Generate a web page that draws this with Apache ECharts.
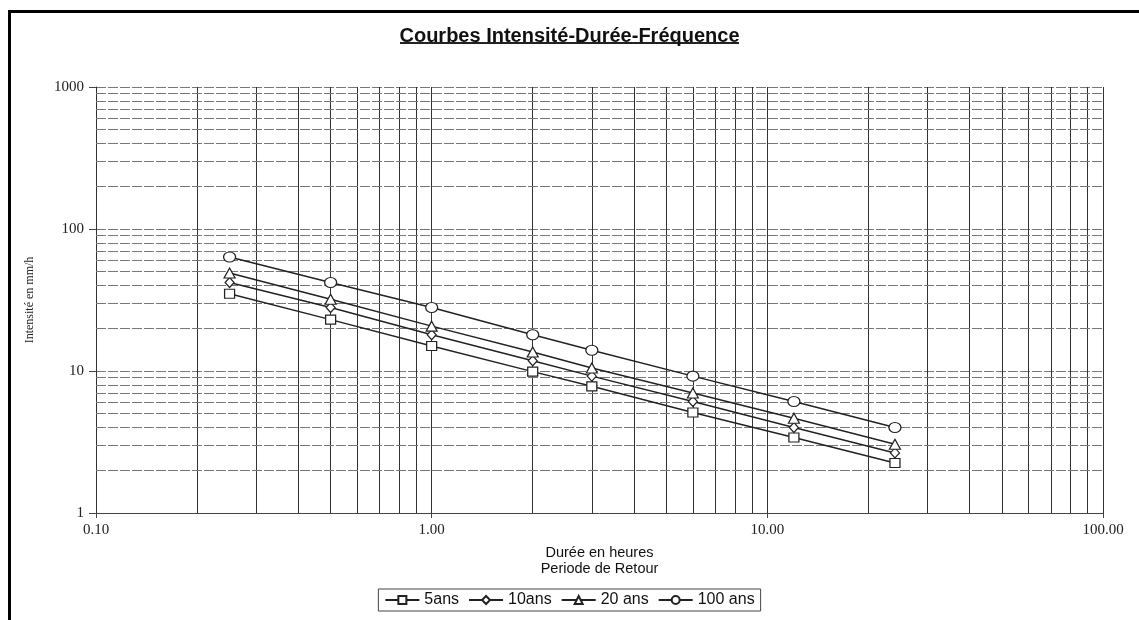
<!DOCTYPE html>
<html>
<head>
<meta charset="utf-8">
<script src="https://cdn.jsdelivr.net/npm/echarts@6/dist/echarts.min.js"></script>
<style>
  html, body { margin: 0; padding: 0; background: #fff; }
  #chart { width: 1139px; height: 620px; }
</style>
</head>
<body>
<div id="chart"></div>
<script>
// durations (hours) and intensities (mm/h)
const durations = [0.25, 0.5, 1, 2, 3, 6, 12, 24];
const ans5 = [35, 23, 15, 9.9, 7.8, 5.1, 3.4, 2.25];
const ans10 = [42, 28, 18, 11.8, 9.2, 6.1, 4.0, 2.65];
const ans20 = [49, 32, 20.7, 13.6, 10.5, 7.0, 4.65, 3.05];
const ans100 = [63.5, 42, 28, 18, 14, 9.2, 6.1, 4.0];

const seriesNames = ['5ans', '10ans', '20 ans', '100 ans'];
const xMinorLines = [0.2, 0.3, 0.4, 0.5, 0.6, 0.7, 0.8, 0.9, 2, 3, 4, 5, 6, 7, 8, 9, 20, 30, 40, 50, 60, 70, 80, 90];
const yMinorLines = [2, 3, 4, 5, 6, 7, 8, 9, 20, 30, 40, 50, 60, 70, 80, 90, 200, 300, 400, 500, 600, 700, 800, 900];

const chart = echarts.init(document.getElementById('chart'), null, { renderer: 'canvas' });

const pair = vals => durations.map((d, i) => [d, vals[i]]);

function dataSeries(name, vals, symbol, size) {
    return {
        name: name,
        type: 'line',
        z: 5,
        data: pair(vals),
        symbol: symbol,
        symbolSize: size,
        showAllSymbol: true,
        lineStyle: { color: '#222', width: 1.5 },
        itemStyle: { color: '#fff', borderColor: '#222', borderWidth: 1.2 }
    };
}

const option = {
    backgroundColor: '#fff',
    animation: false,
    title: {
        text: 'Courbes Intensité-Durée-Fréquence',
        left: 'center',
        top: 21,
        textStyle: { fontFamily: 'Liberation Sans', fontWeight: 'bold', fontSize: 20, color: '#111' }
    },
    graphic: [
        // underline of the title
        { type: 'line', shape: { x1: 400, y1: 43, x2: 739, y2: 43 }, style: { stroke: '#222', lineWidth: 2 } },
        // page frame (left + top)
        { type: 'line', shape: { x1: 9.5, y1: 10, x2: 9.5, y2: 620 }, style: { stroke: '#000', lineWidth: 3 } },
        { type: 'line', shape: { x1: 8, y1: 11.5, x2: 1139, y2: 11.5 }, style: { stroke: '#000', lineWidth: 3 } }
    ],
    legend: {
        data: seriesNames,
        left: 'center',
        top: 589,
        orient: 'horizontal',
        itemWidth: 34,
        itemHeight: 10,
        itemGap: 9,
        padding: [3, 6],
        borderColor: '#444',
        borderWidth: 1,
        textStyle: { fontFamily: 'Liberation Sans', fontSize: 16, color: '#111' }
    },
    grid: {
        left: 96,
        right: 36,
        top: 87,
        bottom: 107
    },
    xAxis: {
        type: 'log',
        logBase: 10,
        min: 0.1,
        max: 100,
        name: 'Durée en heures\nPeriode de Retour',
        nameLocation: 'middle',
        nameGap: 32,
        nameTextStyle: { fontFamily: 'Liberation Sans', fontSize: 14.5, color: '#111', lineHeight: 16, verticalAlign: 'top' },
        axisLine: { lineStyle: { color: '#444', width: 1 } },
        axisTick: { show: true, length: 5, lineStyle: { color: '#444' } },
        axisLabel: {
            fontFamily: 'Liberation Serif',
            fontSize: 15,
            color: '#222',
            margin: 10,
            formatter: v => v.toFixed(2)
        },
        splitLine: { show: true, lineStyle: { color: '#333', width: 1 } }
    },
    yAxis: {
        type: 'log',
        logBase: 10,
        min: 1,
        max: 1000,
        name: 'Intensité en mm/h',
        nameLocation: 'middle',
        nameGap: 60,
        nameRotate: 90,
        nameTextStyle: { fontFamily: 'Liberation Serif', fontSize: 12, color: '#222' },
        axisLine: { show: true, lineStyle: { color: '#333', width: 1 } },
        axisTick: { show: true, inside: false, length: 7, lineStyle: { color: '#444' } },
        axisLabel: {
            fontFamily: 'Liberation Serif',
            fontSize: 15,
            color: '#222',
            margin: 12,
            formatter: v => String(Math.round(v))
        },
        splitLine: { show: true, lineStyle: { color: '#777', width: 1, type: [10, 2] } }
    },
    series: [
        {
            name: 'grid-minor',
            type: 'line',
            z: 1,
            data: [],
            silent: true,
            markLine: {
                silent: true,
                symbol: 'none',
                label: { show: false },
                animation: false,
                data: xMinorLines.map(v => ({ xAxis: v, lineStyle: { color: '#333', width: 1, type: 'solid' } }))
                    .concat(yMinorLines.map(v => ({ yAxis: v, lineStyle: { color: '#777', width: 1, type: [10, 2] } })))
            }
        },
        dataSeries(seriesNames[0], ans5, 'rect', [10, 9]),
        dataSeries(seriesNames[1], ans10, 'diamond', [9, 10]),
        dataSeries(seriesNames[2], ans20, 'triangle', [11, 10]),
        dataSeries(seriesNames[3], ans100, 'circle', [12, 10])
    ]
};

chart.setOption(option);
</script>
</body>
</html>
